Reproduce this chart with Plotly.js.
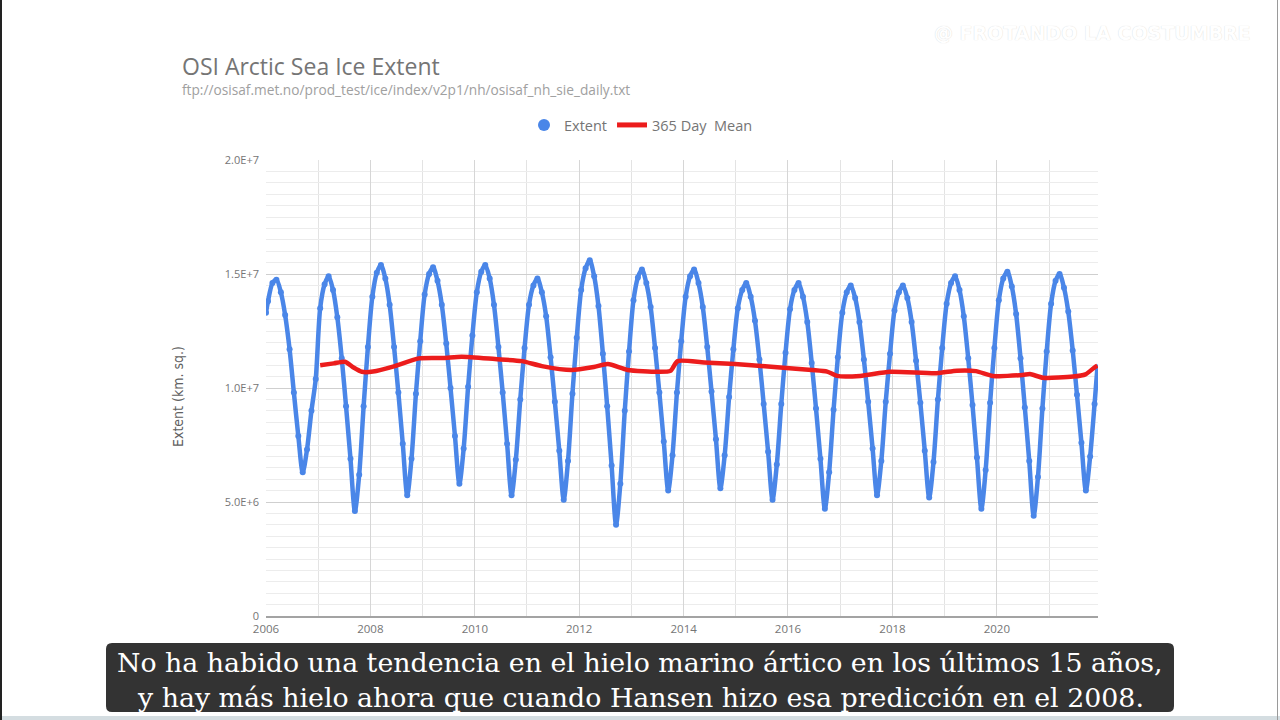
<!DOCTYPE html>
<html>
<head>
<meta charset="utf-8">
<script src="https://cdn.plot.ly/plotly-3.0.1.min.js"></script>
<style>
  html, body { margin: 0; padding: 0; background: #ffffff; }
  #chart { width: 1280px; height: 720px; }
</style>
</head>
<body>
<div id="chart"></div>
<script>
// ---- Data (million km²) ----
const years = [2006, 2007, 2008, 2009, 2010, 2011, 2012, 2013, 2014, 2015, 2016, 2017, 2018, 2019, 2020, 2021];
// mid-month values, Jan..Dec
const ext2006 = [13.8, 14.6, 14.75, 14.2, 13.2, 11.7, 9.8, 7.9, 6.3, 7.3, 9.0, 10.4];
const ext2007 = [13.5, 14.55, 14.9, 14.3, 13.1, 11.3, 9.2, 6.9, 4.6, 6.2, 9.2, 11.8];
const ext2008 = [14.0, 15.05, 15.4, 14.8, 13.65, 11.8, 9.8, 7.55, 5.3, 6.9, 9.75, 12.05];
const ext2009 = [14.1, 15.0, 15.3, 14.7, 13.65, 11.95, 10.0, 7.9, 5.8, 7.35, 10.05, 12.3];
const ext2010 = [14.2, 15.1, 15.4, 14.8, 13.65, 11.8, 9.8, 7.55, 5.3, 6.85, 9.5, 11.75];
const ext2011 = [13.65, 14.5, 14.8, 14.2, 13.15, 11.35, 9.4, 7.25, 5.1, 6.8, 9.75, 12.2];
const ext2012 = [14.3, 15.25, 15.6, 14.9, 13.6, 11.5, 9.2, 6.6, 4.0, 5.8, 9.0, 11.6];
const ext2013 = [13.85, 14.85, 15.2, 14.6, 13.55, 11.75, 9.8, 7.65, 5.5, 7.05, 9.8, 12.05];
const ext2014 = [14.0, 14.9, 15.2, 14.6, 13.55, 11.8, 9.85, 7.75, 5.6, 7.05, 9.6, 11.7];
const ext2015 = [13.5, 14.3, 14.6, 14.0, 12.95, 11.25, 9.3, 7.2, 5.1, 6.65, 9.3, 11.55];
const ext2016 = [13.45, 14.3, 14.6, 14.0, 12.9, 11.1, 9.1, 6.9, 4.7, 6.3, 9.05, 11.35];
const ext2017 = [13.3, 14.2, 14.5, 13.95, 12.9, 11.25, 9.4, 7.35, 5.3, 6.8, 9.4, 11.5];
const ext2018 = [13.4, 14.2, 14.5, 13.95, 12.9, 11.2, 9.35, 7.25, 5.2, 6.75, 9.5, 11.75];
const ext2019 = [13.7, 14.6, 14.9, 14.3, 13.15, 11.3, 9.25, 6.95, 4.7, 6.4, 9.35, 11.75];
const ext2020 = [13.85, 14.8, 15.1, 14.45, 13.25, 11.3, 9.15, 6.8, 4.4, 6.1, 9.1, 11.6];
const ext2021 = [13.7, 14.7, 15.0, 14.4, 13.35, 11.65, 9.7, 7.6, 5.5, 7.0, 9.3];
const extentFirst = ['2006-01-01', 13.3];
const extentLast = ['2021-12-05', 10.9];

const meanDates = ['2007-01-15','2007-04-20','2007-07-08','2007-09-05','2007-11-03','2008-01-20','2008-06-20','2008-12-05','2009-05-25','2009-10-01','2010-05-22','2010-11-25','2011-04-15','2011-11-10','2012-04-12','2012-07-20','2012-12-05','2013-07-05','2013-10-01','2013-11-20','2014-05-25','2014-12-25','2015-08-15','2016-06-15','2016-10-01','2016-12-10','2017-05-20','2017-12-15','2018-11-05','2019-03-28','2019-08-08','2019-12-05','2020-07-01','2020-08-20','2020-11-20','2021-06-18','2021-09-12','2021-11-18','2021-12-05'];
const meanValues = [11.0,11.08,11.15,10.9,10.71,10.72,10.96,11.3,11.32,11.37,11.27,11.18,10.96,10.79,10.92,11.05,10.79,10.71,10.75,11.18,11.12,11.05,10.94,10.79,10.72,10.53,10.53,10.71,10.65,10.76,10.74,10.53,10.57,10.61,10.45,10.5,10.6,10.92,10.98];

const yTickVals = [0, 5, 10, 15, 20];
const yTickText = ['0', '5.0E+6', '1.0E+7', '1.5E+7', '2.0E+7'];

// ---- Build the extent series ----
const yearly = [ext2006, ext2007, ext2008, ext2009, ext2010, ext2011, ext2012, ext2013, ext2014, ext2015, ext2016, ext2017, ext2018, ext2019, ext2020, ext2021];
const extDates = [extentFirst[0]];
const extValues = [extentFirst[1]];
years.forEach((yr, i) => {
  yearly[i].forEach((v, m) => {
    extDates.push(yr + '-' + String(m + 1).padStart(2, '0') + '-15');
    extValues.push(v);
  });
});
extDates.push(extentLast[0]);
extValues.push(extentLast[1]);

const BLUE = '#4a86e8';
const RED = '#ec1c1c';
const SANS = '"Open Sans", Roboto, Arial, sans-serif';

const traces = [
  { x: extDates, y: extValues, type: 'scatter', mode: 'lines', line: { color: BLUE, width: 4.5, shape: 'spline', smoothing: 0.8 },
    showlegend: false, legendgroup: 'ext', hoverinfo: 'skip' },
  { x: extDates, y: extValues, type: 'scatter', mode: 'markers', name: 'Extent', marker: { color: BLUE, size: 6 },
    legendgroup: 'ext' },
  { x: meanDates, y: meanValues, type: 'scatter', mode: 'lines', name: '365 Day\u00a0 Mean',
    line: { color: RED, width: 4.5, shape: 'spline', smoothing: 0.6 } }
];

// pixel -> paper helpers (plot area 266..1098 x, 160..616 y)
const L = 266, R = 1098, T = 160, B = 616;
const PX = p => (p - L) / (R - L);
const PY = p => (B - p) / (B - T);

function roundedRect(x0, y0, x1, y1, r) {
  const a = PX(x0), b = PX(x1), c = PY(y0), d = PY(y1);
  const rx = r / (R - L), ry = r / (B - T);
  return 'M' + (a + rx) + ',' + c +
    ' L' + (b - rx) + ',' + c + ' Q' + b + ',' + c + ' ' + b + ',' + (c - ry) +
    ' L' + b + ',' + (d + ry) + ' Q' + b + ',' + d + ' ' + (b - rx) + ',' + d +
    ' L' + (a + rx) + ',' + d + ' Q' + a + ',' + d + ' ' + a + ',' + (d + ry) +
    ' L' + a + ',' + (c - ry) + ' Q' + a + ',' + c + ' ' + (a + rx) + ',' + c + ' Z';
}

const layout = {
  width: 1280, height: 720,
  margin: { l: L, r: 1280 - R, t: T, b: 720 - B, pad: 0 },
  paper_bgcolor: '#ffffff', plot_bgcolor: '#ffffff',
  font: { family: SANS, color: '#757575', size: 11 },
  showlegend: true,
  legend: { orientation: 'h', x: PX(641), xanchor: 'center', y: PY(125), yanchor: 'middle', itemwidth: 30,
            font: { family: SANS, size: 14.5, color: '#757575' }, itemsizing: 'constant', bgcolor: 'rgba(0,0,0,0)', traceorder: 'normal' },
  xaxis: {
    type: 'date', range: ['2006-01-01', '2021-12-09'],
    tick0: '2006-01-01', dtick: 'M24', tickformat: '%Y',
    showgrid: true, gridcolor: '#d6d6d6', gridwidth: 1,
    minor: { tick0: '2006-01-01', dtick: 'M12', showgrid: true, gridcolor: '#e3e3e3', gridwidth: 1 },
    showline: true, linecolor: '#a3a3a3', linewidth: 2, ticklabelstandoff: 1,
    ticks: '', zeroline: false, tickfont: { family: SANS, size: 11.5, color: '#757575' }, fixedrange: true
  },
  yaxis: {
    range: [0, 20], tickmode: 'array', tickvals: yTickVals, ticktext: yTickText,
    showgrid: true, gridcolor: '#cfcfcf', gridwidth: 1,
    minor: { dtick: 0.5, showgrid: true, gridcolor: '#ececec', gridwidth: 1 },
    ticks: '', zeroline: false, showline: false, ticklabelstandoff: 6,
    tickfont: { family: SANS, size: 11, color: '#757575' }, fixedrange: true
  },
  annotations: [
    { xref: 'paper', yref: 'paper', x: PX(180), y: PY(66), xanchor: 'left', yanchor: 'middle', showarrow: false,
      text: 'OSI Arctic Sea Ice Extent', font: { family: SANS, size: 23, color: '#757575' } },
    { xref: 'paper', yref: 'paper', x: PX(180), y: PY(89), xanchor: 'left', yanchor: 'middle', showarrow: false,
      text: 'ftp://osisaf.met.no/prod_test/ice/index/v2p1/nh/osisaf_nh_sie_daily.txt', font: { family: SANS, size: 13.7, color: '#a0a0a0' } },
    { xref: 'paper', yref: 'paper', x: PX(178), y: PY(397), xanchor: 'center', yanchor: 'middle', showarrow: false, textangle: -90,
      text: 'Extent (km. sq.)', font: { family: '"Liberation Sans Narrow", "DejaVu Sans Condensed", Roboto, sans-serif', size: 14, color: '#616161' } },
    { xref: 'paper', yref: 'paper', x: PX(1092), y: PY(33), xanchor: 'center', yanchor: 'middle', showarrow: false,
      text: '@ FROTANDO LA COSTUMBRE', font: { family: '"DejaVu Sans", sans-serif', size: 19, color: '#ffffff', weight: 700, shadow: '0 0 1px #d0d0d0' } },
    { xref: 'paper', yref: 'paper', x: PX(640), y: PY(662), xanchor: 'center', yanchor: 'middle', showarrow: false,
      text: 'No ha habido una tendencia en el hielo marino ártico en los últimos 15 años,', font: { family: '"DejaVu Serif", serif', size: 26.8, color: '#ffffff' } },
    { xref: 'paper', yref: 'paper', x: PX(640), y: PY(697), xanchor: 'center', yanchor: 'middle', showarrow: false,
      text: 'y hay más hielo ahora que cuando Hansen hizo esa predicción en el 2008.', font: { family: '"DejaVu Serif", serif', size: 26.8, color: '#ffffff' } }
  ],
  shapes: [
    { type: 'path', xref: 'paper', yref: 'paper', path: roundedRect(106, 643, 1174, 712, 6), fillcolor: '#333333', line: { width: 0 }, layer: 'above' },
    { type: 'rect', xref: 'paper', yref: 'paper', x0: PX(0), x1: PX(1280), y0: PY(720), y1: PY(716), fillcolor: '#d4dde1', line: { width: 0 } },
    { type: 'line', xref: 'paper', yref: 'paper', x0: PX(1), x1: PX(1), y0: PY(0), y1: PY(720), line: { color: '#222222', width: 2 } },
    { type: 'line', xref: 'paper', yref: 'paper', x0: PX(1277.5), x1: PX(1277.5), y0: PY(0), y1: PY(720), line: { color: '#9a9a9a', width: 1 } }
  ]
};

Plotly.newPlot('chart', traces, layout, { displayModeBar: false, staticPlot: true });
</script>
</body>
</html>
